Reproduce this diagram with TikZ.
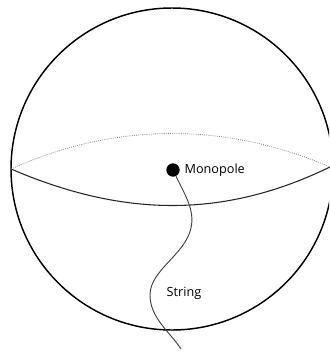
\documentclass[tikz,border=0pt]{standalone}
\usepackage{fontspec}
\setmainfont{Open Sans}
\usepackage{tikz}

\begin{document}
\begin{tikzpicture}[x=0.75pt, y=-0.75pt]
  \useasboundingbox (0,0) rectangle (329,354);
  \tikzset{sphere/.style = {draw, line width=1.1pt}}
  \tikzset{back/.style = {draw=gray, line width=0.6pt, densely dotted}}
  \tikzset{front/.style = {draw=black!85, line width=0.8pt}}
  \tikzset{flux/.style = {draw=black!75, line width=0.7pt}}
  \tikzset{label/.style = {font=\fontsize{9.5}{11}\selectfont, inner sep=1pt}}
  % sphere
  \begin{scope}
    \clip (0,0) rectangle (329,354);
    \draw[sphere] (172,169) circle (161);
  \end{scope}
  % equator
  \coordinate (west) at (11,169);
  \coordinate (east) at (330,167);
  \draw[back] (west) .. controls (115,122) and (225,122) .. (east);
  \draw[front] (west) .. controls (125,218) and (225,218) .. (east);
  % monopole and string
  \node[circle, fill, inner sep=0pt, minimum size=10pt] (mono) at (173,170) {};
  \node[label, anchor=west] (monolabel) at (183,170) {Monopole};
  \coordinate (tail) at (181,349);
  \node[label] (stringlabel) at (184,293) {String};
  \draw[flux] (mono) .. controls (185,195) and (195,210) .. (191,228)
    .. controls (185,255) and (150,270) .. (150,295)
    .. controls (150,318) and (170,332) .. (tail);
\end{tikzpicture}
\end{document}
